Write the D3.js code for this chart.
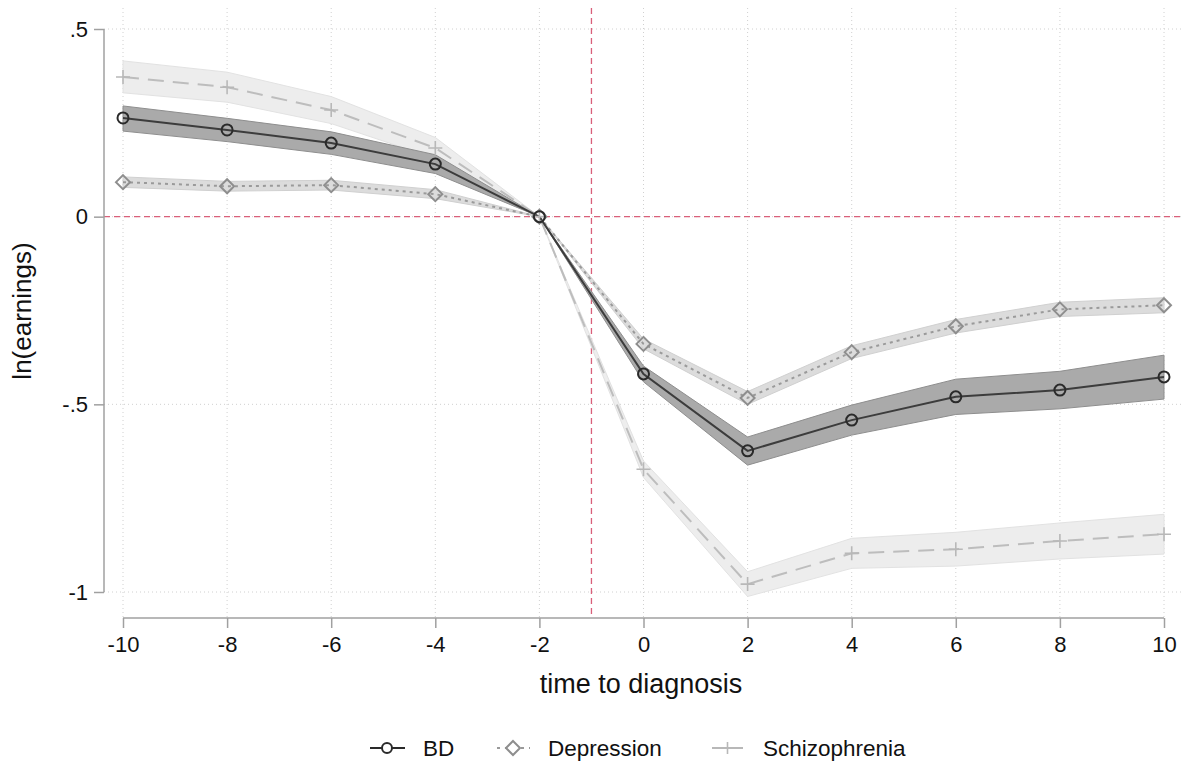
<!DOCTYPE html>
<html><head><meta charset="utf-8">
<script src="https://cdn.jsdelivr.net/npm/d3@7"></script>
<style>body{margin:0;background:#fff}svg{font-family:"Liberation Sans",Arial,Helvetica,sans-serif}</style>
</head><body>
<svg id="c" width="1191" height="765"></svg>
<script>
const xTicks = [-10,-8,-6,-4,-2,0,2,4,6,8,10];
const yTicks = [0.5,0,-0.5,-1];
const yTickLabels = [".5","0","-.5","-1"];
const time = [-10,-8,-6,-4,-2,0,2,4,6,8,10];
const bd      = [0.263,0.231,0.196,0.140,0,-0.419,-0.624,-0.542,-0.480,-0.462,-0.427];
const bdLo    = [0.228,0.200,0.166,0.115,0,-0.440,-0.662,-0.582,-0.527,-0.512,-0.486];
const bdHi    = [0.295,0.262,0.226,0.165,0,-0.398,-0.587,-0.502,-0.433,-0.412,-0.369];
const dep     = [0.092,0.081,0.084,0.060,0,-0.339,-0.483,-0.361,-0.292,-0.247,-0.236];
const depLo   = [0.078,0.068,0.071,0.048,0,-0.352,-0.500,-0.378,-0.310,-0.266,-0.256];
const depHi   = [0.106,0.094,0.097,0.072,0,-0.326,-0.466,-0.344,-0.274,-0.228,-0.216];
const scz     = [0.372,0.345,0.284,0.183,0,-0.673,-0.979,-0.897,-0.886,-0.864,-0.846];
const sczLo   = [0.330,0.305,0.248,0.155,0,-0.695,-1.012,-0.937,-0.931,-0.912,-0.899];
const sczHi   = [0.415,0.385,0.320,0.211,0,-0.651,-0.946,-0.857,-0.841,-0.816,-0.793];

const svg = d3.select("#c");
const x = d3.scaleLinear().domain([-10,10]).range([123,1164]);
const y = d3.scaleLinear().domain([-1,0.5]).range([592,29]);
const plotL = 104, plotR = 1184, plotT = 8, plotB = 618;

// grid
const g = svg.append("g");
g.selectAll(".vg").data(xTicks).join("line")
  .attr("x1",d=>x(d)).attr("x2",d=>x(d)).attr("y1",plotT).attr("y2",plotB)
  .attr("stroke","#d0d0d0").attr("stroke-width",1).attr("stroke-dasharray","1,3");
g.selectAll(".hg").data(yTicks).join("line")
  .attr("x1",plotL).attr("x2",plotR).attr("y1",d=>y(d)).attr("y2",d=>y(d))
  .attr("stroke","#d0d0d0").attr("stroke-width",1).attr("stroke-dasharray","1,3");

// reference lines
svg.append("line").attr("x1",plotL).attr("x2",plotR).attr("y1",y(0)).attr("y2",y(0))
  .attr("stroke","#d9607a").attr("stroke-width",1.3).attr("stroke-dasharray","6,4");
svg.append("line").attr("x1",x(-1)).attr("x2",x(-1)).attr("y1",plotT).attr("y2",plotB)
  .attr("stroke","#d9607a").attr("stroke-width",1.3).attr("stroke-dasharray","6,4");

function band(lo,hi,fill,stroke){
  const a = d3.area().x((d,i)=>x(time[i])).y0((d,i)=>y(lo[i])).y1((d,i)=>y(hi[i]));
  svg.append("path").datum(time).attr("d",a).attr("fill",fill).attr("stroke",stroke).attr("stroke-width",1);
}
band(sczLo,sczHi,"#ededed","#e2e2e2");
band(depLo,depHi,"#dcdcdc","#d0d0d0");
band(bdLo,bdHi,"#aaaaaa","#8e8e8e");

function line(vals,color,dash,w){
  const l = d3.line().x((d,i)=>x(time[i])).y(d=>y(d));
  svg.append("path").datum(vals).attr("d",l).attr("fill","none").attr("stroke",color)
    .attr("stroke-width",w).attr("stroke-dasharray",dash);
}
line(scz,"#bdbdbd","16,9",2);
line(dep,"#9a9a9a","3,4",2);
line(bd,"#3c3c3c",null,2);

function plusMarks(vals,color){
  svg.append("g").selectAll("path").data(vals).join("path")
    .attr("d",(d,i)=>{const cx=x(time[i]),cy=y(d);return `M${cx-7},${cy}H${cx+7}M${cx},${cy-7}V${cy+7}`;})
    .attr("stroke",color).attr("stroke-width",1.6).attr("fill","none");
}
function diamondMarks(vals,color){
  svg.append("g").selectAll("path").data(vals).join("path")
    .attr("d",(d,i)=>{const cx=x(time[i]),cy=y(d),r=7;return `M${cx},${cy-r}L${cx+r},${cy}L${cx},${cy+r}L${cx-r},${cy}Z`;})
    .attr("stroke",color).attr("stroke-width",2).attr("fill","none");
}
function circleMarks(vals,color){
  svg.append("g").selectAll("circle").data(vals).join("circle")
    .attr("cx",(d,i)=>x(time[i])).attr("cy",d=>y(d)).attr("r",5.5)
    .attr("stroke",color).attr("stroke-width",2).attr("fill","none");
}
plusMarks(scz,"#b8b8b8");
diamondMarks(dep,"#8e8e8e");
circleMarks(bd,"#2a2a2a");

// axes
const xAxis = d3.axisBottom(x).tickValues(xTicks).tickSize(10).tickPadding(8).tickFormat(d=>String(d));
const xg = svg.append("g").attr("transform",`translate(0,${plotB})`).call(xAxis);
xg.select(".domain").attr("stroke","#a0a0a0").attr("stroke-width",1.5).attr("d",`M${x(-10)},0H${x(10)}`);
xg.selectAll(".tick line").attr("stroke","#a0a0a0").attr("stroke-width",1.5);
xg.selectAll("text").attr("font-size",22).attr("fill","#111").attr("font-family","Liberation Sans, Arial, sans-serif");

const yAxis = d3.axisLeft(y).tickValues(yTicks).tickSize(10).tickPadding(6).tickFormat((d,i)=>yTickLabels[i]);
const yg = svg.append("g").attr("transform",`translate(${plotL},0)`).call(yAxis);
yg.select(".domain").attr("stroke","#a0a0a0").attr("stroke-width",1.5).attr("d",`M0,${y(0.5)}V${y(-1)}`);
yg.selectAll(".tick line").attr("stroke","#a0a0a0").attr("stroke-width",1.5);
yg.selectAll("text").attr("font-size",22).attr("fill","#111").attr("font-family","Liberation Sans, Arial, sans-serif");

svg.append("text").attr("x",641).attr("y",693).attr("text-anchor","middle")
  .attr("font-size",27).attr("fill","#111").text("time to diagnosis");
svg.append("text").attr("transform","translate(31,311) rotate(-90)").attr("text-anchor","middle")
  .attr("font-size",26).attr("fill","#111").text("ln(earnings)");

// legend
const ly = 748;
const lg = svg.append("g");
// BD
lg.append("line").attr("x1",370).attr("x2",405).attr("y1",ly).attr("y2",ly).attr("stroke","#2a2a2a").attr("stroke-width",2);
lg.append("circle").attr("cx",387).attr("cy",ly).attr("r",5).attr("fill","#fff").attr("stroke","#2a2a2a").attr("stroke-width",2);
lg.append("text").attr("x",423).attr("y",ly+8).attr("font-size",22.5).attr("fill","#111").text("BD");
// Depression
lg.append("line").attr("x1",497).attr("x2",530).attr("y1",ly).attr("y2",ly).attr("stroke","#9a9a9a").attr("stroke-width",2).attr("stroke-dasharray","3,5");
lg.append("path").attr("d",`M513,${ly-7}L520,${ly}L513,${ly+7}L506,${ly}Z`).attr("fill","#fff").attr("stroke","#8e8e8e").attr("stroke-width",2);
lg.append("text").attr("x",548).attr("y",ly+8).attr("font-size",22.5).attr("fill","#111").text("Depression");
// Schizophrenia
lg.append("line").attr("x1",712).attr("x2",743).attr("y1",ly).attr("y2",ly).attr("stroke","#b8b8b8").attr("stroke-width",2);
lg.append("path").attr("d",`M727.5,${ly-6}V${ly+6}`).attr("stroke","#b8b8b8").attr("stroke-width",1.6);
lg.append("text").attr("x",763).attr("y",ly+8).attr("font-size",22.5).attr("fill","#111").text("Schizophrenia");
</script>
</body></html>
